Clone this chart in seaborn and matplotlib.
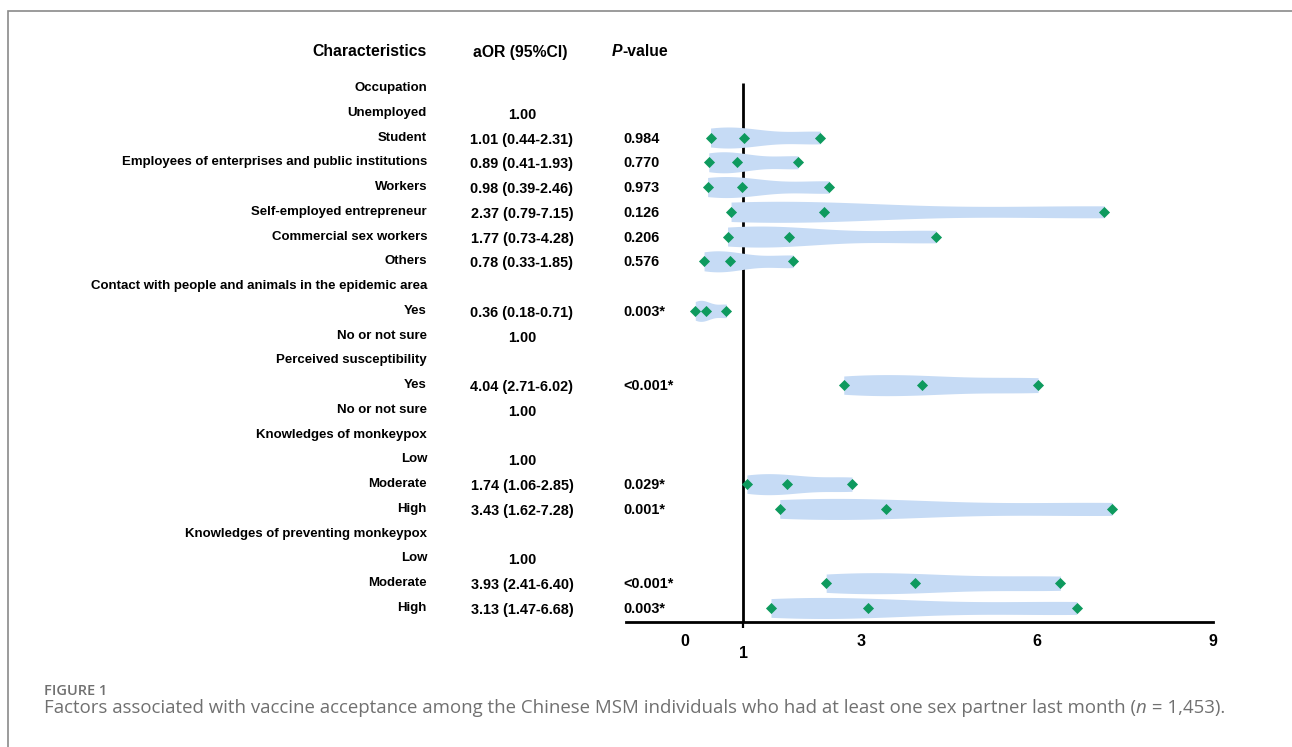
import numpy as np
import pandas as pd
import matplotlib
matplotlib.use("Agg")
import matplotlib.pyplot as plt
import matplotlib.transforms as mtransforms
from matplotlib.patches import Rectangle
import seaborn as sns

# Table rows (top to bottom)
labels = [
    "Occupation", "Unemployed", "Student",
    "Employees of enterprises and public institutions", "Workers",
    "Self-employed entrepreneur", "Commercial sex workers", "Others",
    "Contact with people and animals in the epidemic area", "Yes", "No or not sure",
    "Perceived susceptibility", "Yes", "No or not sure",
    "Knowledges of monkeypox", "Low", "Moderate", "High",
    "Knowledges of preventing monkeypox", "Low", "Moderate", "High",
]
aor_text = [
    "", "1.00", "1.01 (0.44-2.31)", "0.89 (0.41-1.93)", "0.98 (0.39-2.46)",
    "2.37 (0.79-7.15)", "1.77 (0.73-4.28)", "0.78 (0.33-1.85)",
    "", "0.36 (0.18-0.71)", "1.00",
    "", "4.04 (2.71-6.02)", "1.00",
    "", "1.00", "1.74 (1.06-2.85)", "3.43 (1.62-7.28)",
    "", "1.00", "3.93 (2.41-6.40)", "3.13 (1.47-6.68)",
]
p_text = [
    "", "", "0.984", "0.770", "0.973", "0.126", "0.206", "0.576",
    "", "0.003*", "",
    "", "<0.001*", "",
    "", "", "0.029*", "0.001*",
    "", "", "<0.001*", "0.003*",
]
nan = np.nan
aor = [nan, nan, 1.01, 0.89, 0.98, 2.37, 1.77, 0.78, nan, 0.36, nan, nan, 4.04, nan,
       nan, nan, 1.74, 3.43, nan, nan, 3.93, 3.13]
ci_low = [nan, nan, 0.44, 0.41, 0.39, 0.79, 0.73, 0.33, nan, 0.18, nan, nan, 2.71, nan,
          nan, nan, 1.06, 1.62, nan, nan, 2.41, 1.47]
ci_high = [nan, nan, 2.31, 1.93, 2.46, 7.15, 4.28, 1.85, nan, 0.71, nan, nan, 6.02, nan,
           nan, nan, 2.85, 7.28, nan, nan, 6.40, 6.68]
x_ticks = [0, 3, 6, 9]

# long table: three values (low, aOR, high) per plotted row
recs = []
for i in range(len(labels)):
    if not np.isnan(aor[i]):
        for v in (ci_low[i], aor[i], ci_high[i]):
            recs.append({"row": i, "value": v})
df = pd.DataFrame(recs)

sns.set_theme(style="white")
plt.rcParams["font.family"] = ["Liberation Sans", "DejaVu Sans"]
plt.rcParams["text.color"] = "black"

W, H = 1292, 747
fig = plt.figure(figsize=(W / 100, H / 100), dpi=100)


def fx(px):
    return px / W


def fy(py):
    return 1 - py / H


ROW0, STEP = 88, 24.76


def row_y(py):
    return (py - ROW0) / STEP


ax = fig.add_axes([fx(626), fy(622), fx(1213) - fx(626), fy(40) - fy(622)])

blue = "#c6dbf5"
green = "#0e9a5e"

ax.vlines(1, row_y(83), row_y(622), color="black", lw=2, zorder=0)
sns.violinplot(data=df, x="value", y="row", orient="h", native_scale=True,
               cut=0, inner=None, density_norm="width", width=0.85,
               bw_adjust=0.7, color=blue, saturation=1, linewidth=0, ax=ax)
sns.scatterplot(data=df, x="value", y="row", marker="D", color=green, s=32,
                linewidth=0, ax=ax, zorder=4)

ax.set_xlim(-1, 9)
ax.set_ylim(row_y(622), row_y(40))
ax.set_ylabel("")
ax.set_xlabel("")
ax.set_yticks([])
for s in ["top", "right", "left"]:
    ax.spines[s].set_visible(False)
ax.spines["bottom"].set_linewidth(2)
ax.spines["bottom"].set_color("black")

ax.set_xticks(x_ticks)
ax.set_xticklabels([str(t) for t in x_ticks], fontweight="bold", fontsize=11.5)
ax.tick_params(axis="x", which="major", direction="inout", length=9, width=1.6,
               pad=4, colors="black")
ax.set_xticks([1], minor=True)
ax.set_xticklabels(["1"], minor=True, fontweight="bold", fontsize=11.5)
ax.tick_params(axis="x", which="minor", direction="out", length=4, width=1.6,
               pad=13, colors="black", bottom=True)

# table text: x in figure fraction, y in row units
tr = mtransforms.blended_transform_factory(fig.transFigure, ax.transData)
base = dict(transform=tr, fontweight="bold", va="center", color="black",
            clip_on=False)
hy = row_y(52)
ax.text(fx(427), hy, "Characteristics", ha="right", fontsize=11.3, **base)
ax.text(fx(520), hy, "aOR (95%CI)", ha="center", fontsize=11.3, **base)
pt = ax.text(fx(612), hy, "P", ha="left", style="italic", fontsize=11.3, **base)
ax.annotate("-value", xy=(1, 0.5), xycoords=pt, va="center", ha="left",
            fontsize=11.3, fontweight="bold", color="black")

for i, lab in enumerate(labels):
    ax.text(fx(427), i, lab, ha="right", fontsize=9.55, **base)
    if aor_text[i]:
        ax.text(fx(522), i + 0.08, aor_text[i], ha="center", fontsize=10.4, **base)
    if p_text[i]:
        ax.text(fx(623), i + 0.04, p_text[i], ha="left", fontsize=10.4, **base)

# frame and caption
fig.add_artist(Rectangle((fx(7.5), -0.1), 1.2, fy(10.5) + 0.1,
                         transform=fig.transFigure, fill=False,
                         edgecolor="#8a8a8a", lw=1.2))
ckw = dict(family=["Open Sans", "DejaVu Sans"], color="#707070")
fig.text(fx(44), fy(691), "FIGURE 1", fontsize=10.5, fontweight="semibold",
         va="center", **ckw)
c1 = fig.text(fx(44), fy(708),
              "Factors associated with vaccine acceptance among the Chinese MSM "
              "individuals who had at least one sex partner last month (",
              fontsize=13.4, va="center", **ckw)
c2 = ax.annotate("n", xy=(1, 0), xycoords=c1, va="bottom", ha="left",
                 fontsize=13.4, style="italic", annotation_clip=False, **ckw)
ax.annotate(" = 1,453).", xy=(1, 0), xycoords=c2, va="bottom", ha="left",
            fontsize=13.4, annotation_clip=False, **ckw)

fig.savefig("out.png", dpi=100)
